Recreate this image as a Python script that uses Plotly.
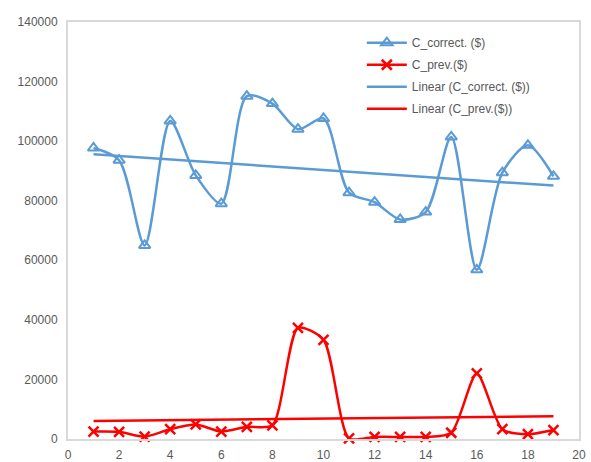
import numpy as np
import plotly.graph_objects as go

# Period index
periods = list(range(1, 20))

# Series values ($)
c_correct = [97700, 93600, 65000, 106800, 88500, 79000, 115100, 112600, 104000, 107600,
             82700, 79500, 73700, 76200, 101400, 56800, 89400, 98600, 88200]
c_prev = [2500, 2400, 800, 3300, 4900, 2500, 4100, 4600, 37300, 33300,
          200, 700, 700, 700, 2100, 22000, 3300, 1600, 3000]

x_ticks = list(range(0, 21, 2))
y_ticks = list(range(0, 140001, 20000))

BLUE = "#5B9BD5"
RED = "#FF0000"
GRID = "#D9D9D9"
TEXT = "#595959"
FONT = "Liberation Sans"

x_arr = np.array(periods, dtype=float)


def linear_fit(values):
    slope, intercept = np.polyfit(x_arr, np.array(values, dtype=float), 1)
    return list(slope * x_arr + intercept)


fig = go.Figure()

fig.add_trace(go.Scatter(
    x=periods, y=c_correct, name="C_correct. ($)",
    mode="lines+markers", cliponaxis=False,
    line=dict(color=BLUE, width=2.5, shape="spline", smoothing=0.8),
    marker=dict(symbol="triangle-up-open", size=10, color=BLUE, line=dict(width=2, color=BLUE)),
    legendgroup="a",
))
fig.add_trace(go.Scatter(
    x=periods, y=c_prev, name="C_prev.($)",
    mode="lines+markers", cliponaxis=False,
    line=dict(color=RED, width=2.5, shape="spline", smoothing=0.7),
    marker=dict(symbol="x-thin-open", size=10, color=RED, line=dict(width=2.5, color=RED)),
    legendgroup="b",
))
fig.add_trace(go.Scatter(
    x=periods, y=linear_fit(c_correct), name="Linear (C_correct. ($))",
    mode="lines", line=dict(color=BLUE, width=2.5),
    legendgroup="c",
))
fig.add_trace(go.Scatter(
    x=periods, y=linear_fit(c_prev), name="Linear (C_prev.($))",
    mode="lines", line=dict(color=RED, width=2.5),
    legendgroup="d",
))

axis_common = dict(
    showgrid=False, zeroline=False,
    showline=True, linecolor=GRID, linewidth=2, mirror=True,
    ticks="", tickfont=dict(family=FONT, size=12, color=TEXT),
)

fig.update_xaxes(range=[0, 20], tickvals=x_ticks, ticklabelstandoff=4, **axis_common)
fig.update_yaxes(range=[0, 140000], tickvals=y_ticks, tickformat="d",
                 ticklabelstandoff=6, **axis_common)

fig.update_layout(
    width=591, height=462,
    margin=dict(l=68, r=12, t=22, b=23, autoexpand=False),
    paper_bgcolor="white", plot_bgcolor="white",
    font=dict(family=FONT, size=12, color=TEXT),
    legend=dict(
        x=0.575, y=0.985, xanchor="left", yanchor="top",
        bgcolor="rgba(255,255,255,0)",
        font=dict(family=FONT, size=12, color=TEXT),
        tracegroupgap=3, itemwidth=40,
    ),
)

fig.write_html("out.html")
